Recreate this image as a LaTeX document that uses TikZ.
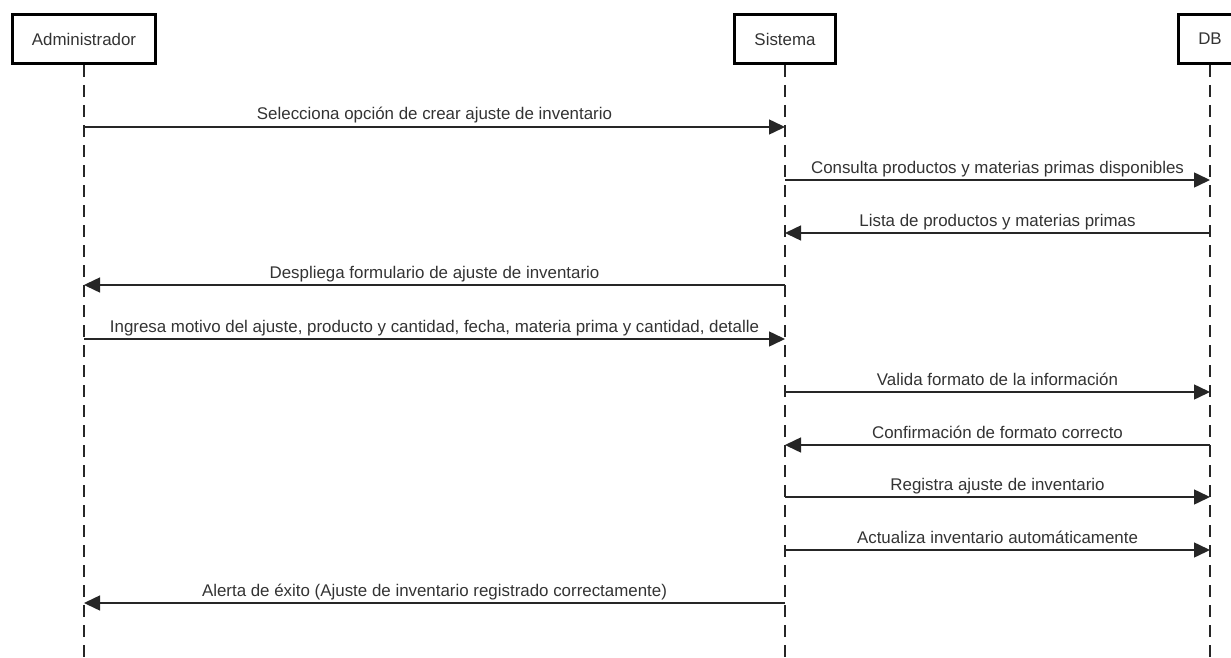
\documentclass[tikz,border=0pt]{standalone}
\usepackage{fontspec}
\setmainfont{Liberation Sans}
\usetikzlibrary{positioning,arrows.meta}

\begin{document}
\begin{tikzpicture}[x=1pt,y=-1pt,
  actor/.style={draw=black,line width=3pt,minimum height=49pt,inner sep=0pt,
    font=\fontsize{16.9}{20}\selectfont,text=black!80},
  lifeline/.style={draw=black!85,line width=1.6pt,dash pattern=on 12pt off 8pt},
  msg/.style={draw=black!85,line width=1.5pt,-{Triangle[length=16pt,width=15pt]}},
  lbl/.style={anchor=base,yshift=7pt,inner sep=0pt,font=\fontsize{16.9}{20}\selectfont,text=black!80}]
\useasboundingbox (0,0) rectangle (1231,658);
% participants
\node[actor,minimum width=143pt] (adm) at (84,39) {Administrador};
\node[actor,minimum width=101pt] (sis) at (785,39) {Sistema};
\node[actor,minimum width=63pt] (db) at (1210,39) {DB};
% lifelines
\foreach \p in {adm,sis,db}
  \draw[lifeline] (\p.south) -- (\p.south |- 0,658);
% messages
\foreach \y/\a/\b/\txt in {
  127/adm/sis/{Selecciona opción de crear ajuste de inventario},
  180/sis/db/{Consulta productos y materias primas disponibles},
  233/db/sis/{Lista de productos y materias primas},
  285/sis/adm/{Despliega formulario de ajuste de inventario},
  339/adm/sis/{Ingresa motivo del ajuste, producto y cantidad, fecha, materia prima y cantidad, detalle},
  392/sis/db/{Valida formato de la información},
  445/db/sis/{Confirmación de formato correcto},
  497/sis/db/{Registra ajuste de inventario},
  550/sis/db/{Actualiza inventario automáticamente},
  603/sis/adm/{Alerta de éxito (Ajuste de inventario registrado correctamente)}}
{
  \draw[msg] (\a.south |- 0,\y) -- node[lbl]{\txt} (\b.south |- 0,\y);
}
\end{tikzpicture}
\end{document}
